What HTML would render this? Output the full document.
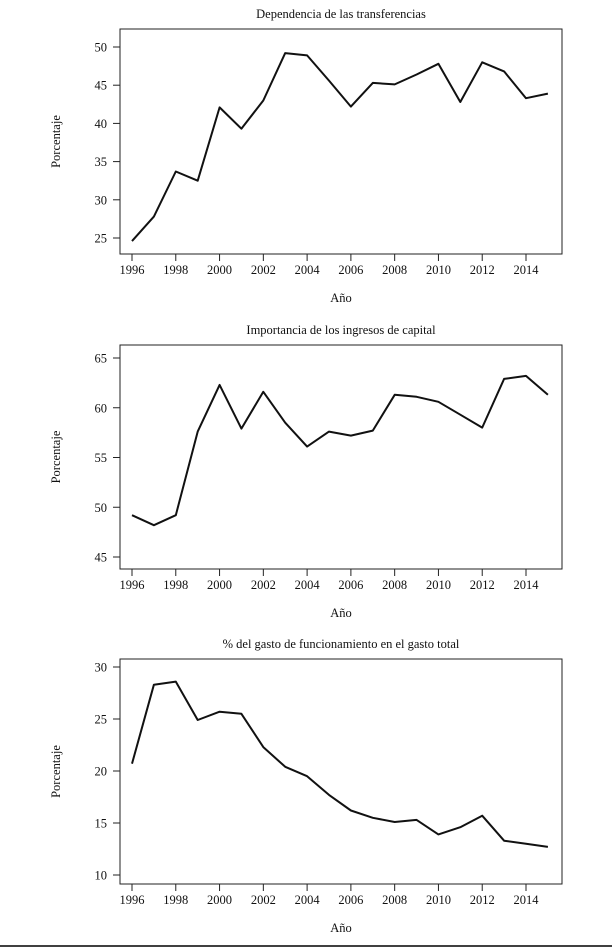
<!DOCTYPE html>
<html><head><meta charset="utf-8"><style>
html,body{margin:0;padding:0;background:#fff;}
svg{display:block;font-family:"Liberation Serif",serif;}
</style></head><body>
<svg id="fig" width="612" height="950" viewBox="0 0 612 950">
<line x1="0" y1="946" x2="612" y2="946" stroke="#000" stroke-width="1.5"/>
</svg>
<script>
const years = [1996,1997,1998,1999,2000,2001,2002,2003,2004,2005,2006,2007,2008,2009,2010,2011,2012,2013,2014,2015];
const xTicks = [1996,1998,2000,2002,2004,2006,2008,2010,2012,2014];
const transferencias = [24.6,27.8,33.7,32.5,42.1,39.3,43.0,49.2,48.9,45.6,42.2,45.3,45.1,46.4,47.8,42.8,48.0,46.8,43.3,43.9];
const ingresosCapital = [49.2,48.2,49.2,57.6,62.3,57.9,61.6,58.5,56.1,57.6,57.2,57.7,61.3,61.1,60.6,59.3,58.0,62.9,63.2,61.3];
const gastoFuncionamiento = [20.7,28.3,28.6,24.9,25.7,25.5,22.3,20.4,19.5,17.7,16.2,15.5,15.1,15.3,13.9,14.6,15.7,13.3,13.0,12.7];
const yTicks1 = [25,30,35,40,45,50];
const yTicks2 = [45,50,55,60,65];
const yTicks3 = [10,15,20,25,30];

const NS = "http://www.w3.org/2000/svg";
const svg = document.getElementById('fig');
function mk(tag, attrs, parent){
  const e = document.createElementNS(NS, tag);
  for (const k in attrs) e.setAttribute(k, attrs[k]);
  (parent||svg).appendChild(e);
  return e;
}
function txt(x,y,s,parent,anchor,rot){
  const t = mk('text',{x:x,y:y,'font-size':12.5,'text-anchor':anchor||'middle',fill:'#111'},parent);
  if (rot) t.setAttribute('transform','rotate(-90 '+x+' '+y+')');
  t.textContent = s;
  return t;
}
function panel(cfg){
  const g = mk('g',{});
  
  
  const xs = v => 132 + (v-1996)*(526-132)/18;
  const ys = v => cfg.yTop + (cfg.vTop - v)*(cfg.yBot-cfg.yTop)/(cfg.vTop-cfg.vBot);
  const box = mk('rect',{x:120,y:cfg.boxTop,width:442,height:cfg.boxBot-cfg.boxTop,fill:'none',stroke:'#222','stroke-width':1},g);
  
  
  const title = txt(341,cfg.boxTop-11,cfg.title,g);
  
  
  cfg.yt.forEach(v=>{
    mk('line',{x1:113,x2:120,y1:ys(v),y2:ys(v),stroke:'#222'},g);
    const l = txt(107,ys(v)+4.5,String(v),g,'end');
    
    
  });
  xTicks.forEach(v=>{
    mk('line',{x1:xs(v),x2:xs(v),y1:cfg.boxBot,y2:cfg.boxBot+7,stroke:'#222'},g);
    const l = txt(xs(v),cfg.boxBot+20,String(v),g);
    
    
  });
  const xl = txt(341,cfg.boxBot+48,'Año',g);
  
  
  const yl = txt(60,(cfg.boxTop+cfg.boxBot)/2,'Porcentaje',g,'middle',true);
  
  
  const pts = cfg.data.map((v,i)=>xs(years[i]).toFixed(1)+','+ys(v).toFixed(1)).join(' ');
  const line = mk('polyline',{points:pts,fill:'none',stroke:'#111','stroke-width':2,'stroke-linejoin':'round'},g);
  
  
}
panel({name:'chart-transferencias',title:'Dependencia de las transferencias',data:transferencias,yt:yTicks1,
  boxTop:29,boxBot:254,vTop:50,vBot:25,yTop:47,yBot:238});
panel({name:'chart-ingresos-capital',title:'Importancia de los ingresos de capital',data:ingresosCapital,yt:yTicks2,
  boxTop:345,boxBot:569,vTop:65,vBot:45,yTop:358,yBot:557});
panel({name:'chart-gasto-funcionamiento',title:'% del gasto de funcionamiento en el gasto total',data:gastoFuncionamiento,yt:yTicks3,
  boxTop:659,boxBot:884,vTop:30,vBot:10,yTop:667,yBot:875});
</script>
</body></html>
